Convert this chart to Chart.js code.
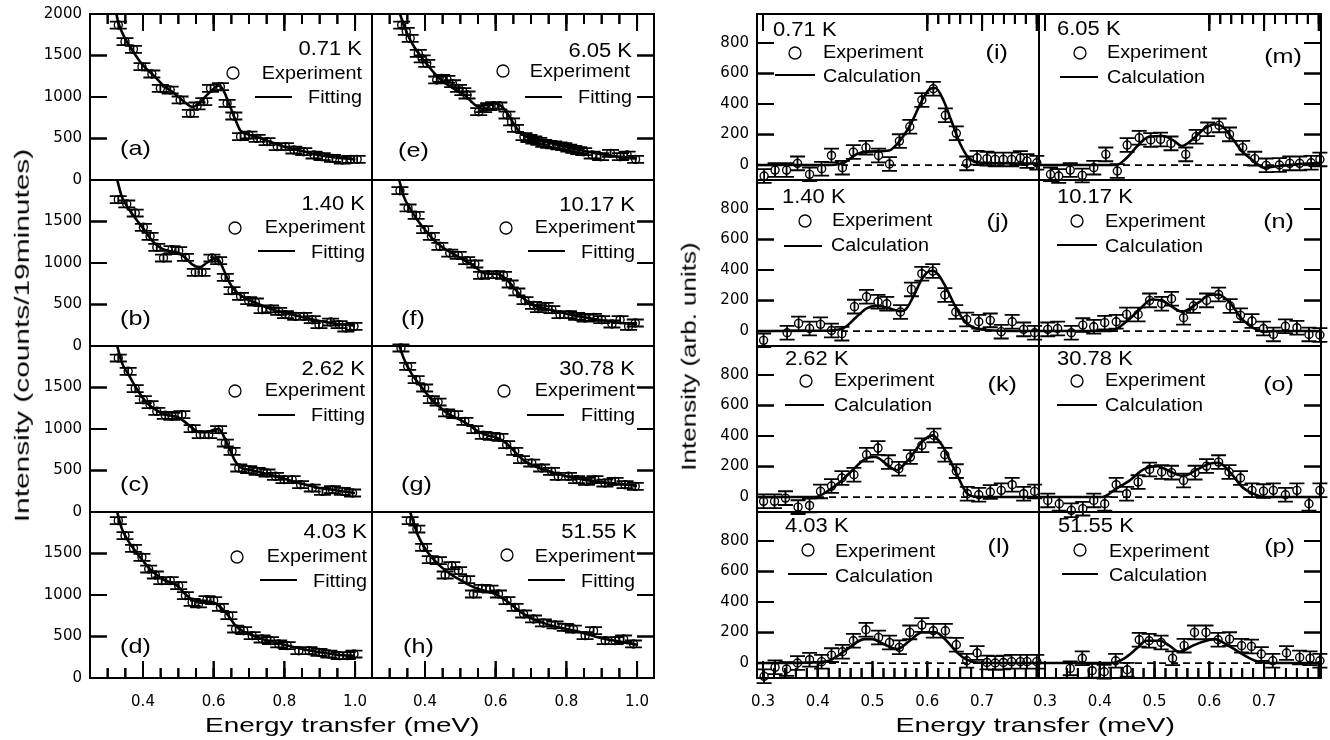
<!DOCTYPE html>
<html><head><meta charset="utf-8">
<script src="https://cdn.jsdelivr.net/npm/chart.js@4.4.0/dist/chart.umd.min.js"></script>
<style>
html,body{margin:0;padding:0;background:#fff;}
#wrap{position:relative;width:1330px;height:740px;overflow:hidden;background:#fff;}
#wrap canvas{position:absolute;}
.title{position:absolute;font-family:"Liberation Sans",Arial,sans-serif;color:#000;white-space:nowrap;line-height:1;transform-origin:50% 50%;}
</style></head>
<body><div id="wrap"></div>
<script>
// ---------- labels ----------
const leftTemps = ['0.71 K','1.40 K','2.62 K','4.03 K','6.05 K','10.17 K','30.78 K','51.55 K'];
const leftLetters = ['(a)','(b)','(c)','(d)','(e)','(f)','(g)','(h)'];
const rightTemps = ['0.71 K','1.40 K','2.62 K','4.03 K','6.05 K','10.17 K','30.78 K','51.55 K'];
const rightLetters = ['(i)','(j)','(k)','(l)','(m)','(n)','(o)','(p)'];
const leftErr = 42;   // counts
const rightErr = 45;  // arb. units

// ---------- left block: measured spectra (E meV, counts) ----------
const expA_E = [0.330,0.349,0.373,0.397,0.425,0.449,0.477,0.505,0.534,0.553,0.572,0.591,0.619,0.638,0.657,0.676,0.700,0.723,0.751,0.780,0.803,0.827,0.855,0.884,0.907,0.936,0.964,0.988,1.006];
const expA_I = [1867,1667,1574,1365,1277,1104,1084,964,803,892,944,1104,1124,924,771,522,542,502,462,402,402,361,341,301,281,261,241,249,249];
const fitA_E = [0.322,0.33,0.35,0.37,0.40,0.43,0.46,0.49,0.52,0.54,0.56,0.58,0.60,0.615,0.63,0.645,0.66,0.675,0.69,0.72,0.76,0.80,0.85,0.90,0.95,1.0];
const fitA_I = [2060,1900,1700,1560,1380,1260,1130,1040,930,880,930,1020,1100,1140,1060,900,740,600,560,520,460,400,350,300,270,250];

const expB_E = [0.330,0.354,0.378,0.401,0.420,0.439,0.458,0.482,0.501,0.520,0.548,0.567,0.595,0.614,0.633,0.652,0.676,0.699,0.718,0.737,0.761,0.784,0.803,0.832,0.855,0.879,0.898,0.931,0.955,0.974,0.997];
const expB_I = [1763,1711,1602,1430,1321,1189,1060,1161,1149,1068,888,888,1060,1028,827,667,598,546,530,438,446,418,378,357,357,317,257,289,257,217,237];
const fitB_E = [0.327,0.34,0.36,0.38,0.40,0.42,0.44,0.46,0.48,0.50,0.52,0.54,0.56,0.58,0.60,0.615,0.63,0.645,0.66,0.68,0.70,0.73,0.76,0.80,0.85,0.90,0.95,1.0];
const fitB_I = [2000,1800,1650,1530,1420,1300,1210,1160,1140,1120,1060,980,950,1000,1050,1030,900,760,670,600,555,500,450,400,350,300,265,245];

const expC_E = [0.330,0.358,0.378,0.401,0.420,0.439,0.463,0.482,0.510,0.539,0.562,0.586,0.614,0.633,0.652,0.671,0.699,0.723,0.751,0.775,0.799,0.822,0.846,0.879,0.908,0.936,0.964,0.993];
const expC_I = [1855,1695,1486,1353,1293,1213,1165,1153,1173,1004,932,932,992,831,731,530,510,490,470,430,390,390,329,289,249,269,249,229];
const fitC_E = [0.327,0.34,0.36,0.38,0.40,0.42,0.44,0.46,0.48,0.50,0.52,0.54,0.56,0.58,0.60,0.615,0.63,0.645,0.66,0.675,0.70,0.73,0.76,0.80,0.85,0.90,0.95,1.0];
const fitC_I = [2000,1800,1650,1500,1370,1280,1220,1180,1160,1140,1080,1010,960,960,990,1000,900,760,620,540,510,480,450,400,340,290,260,225];

const expD_E = [0.330,0.349,0.373,0.397,0.416,0.435,0.453,0.477,0.501,0.520,0.539,0.557,0.581,0.600,0.619,0.643,0.662,0.685,0.709,0.737,0.761,0.784,0.808,0.841,0.870,0.898,0.926,0.955,0.978,0.997];
const expD_I = [1896,1715,1562,1454,1313,1241,1173,1173,1112,992,912,892,944,932,851,751,590,570,510,470,450,410,390,329,329,309,289,269,269,289];
const fitD_E = [0.327,0.34,0.36,0.38,0.40,0.42,0.44,0.46,0.48,0.50,0.52,0.54,0.56,0.58,0.60,0.62,0.64,0.66,0.68,0.70,0.73,0.76,0.80,0.85,0.90,0.95,1.0];
const fitD_I = [2000,1800,1640,1520,1410,1310,1240,1180,1150,1100,1010,940,910,920,910,850,760,640,570,530,480,445,400,350,310,280,265];

const expE_E = [0.334,0.347,0.358,0.381,0.392,0.405,0.433,0.447,0.462,0.478,0.495,0.507,0.519,0.552,0.566,0.580,0.594,0.609,0.632,0.645,0.656,0.680,0.694,0.708,0.722,0.736,0.750,0.764,0.779,0.793,0.807,0.821,0.835,0.849,0.873,0.897,0.925,0.953,0.972,0.996];
const expE_I = [1867,1790,1707,1526,1460,1406,1205,1225,1213,1160,1104,1065,1024,823,860,884,895,892,783,700,622,522,500,482,465,442,430,422,410,402,385,369,355,341,301,281,321,281,301,249];
const fitE_E = [0.329,0.35,0.37,0.39,0.41,0.43,0.45,0.47,0.49,0.51,0.53,0.55,0.57,0.595,0.615,0.635,0.655,0.675,0.70,0.72,0.76,0.80,0.85,0.90,0.95,1.0];
const fitE_I = [2000,1760,1600,1480,1370,1270,1190,1130,1080,1030,950,885,905,925,895,790,650,550,500,480,440,400,350,310,280,260];

const expF_E = [0.329,0.352,0.375,0.399,0.418,0.442,0.470,0.494,0.518,0.541,0.560,0.579,0.603,0.622,0.641,0.660,0.683,0.707,0.721,0.740,0.759,0.782,0.806,0.829,0.853,0.877,0.900,0.929,0.952,0.976,0.995];
const expF_I = [1871,1663,1574,1402,1321,1201,1120,1092,1028,988,851,859,859,851,747,651,546,490,450,478,438,378,378,357,337,345,317,265,317,237,277];
const fitF_E = [0.327,0.34,0.36,0.38,0.40,0.42,0.44,0.46,0.48,0.50,0.52,0.54,0.56,0.58,0.60,0.62,0.64,0.66,0.68,0.70,0.73,0.76,0.80,0.85,0.90,0.95,1.0];
const fitF_I = [2000,1800,1640,1510,1400,1300,1220,1160,1110,1060,1010,960,890,870,870,840,760,660,570,510,460,430,390,345,310,280,260];

const expG_E = [0.332,0.351,0.375,0.399,0.418,0.437,0.461,0.484,0.513,0.541,0.565,0.588,0.612,0.631,0.654,0.673,0.702,0.730,0.758,0.777,0.806,0.829,0.857,0.881,0.909,0.938,0.966,0.995];
const expG_I = [1976,1755,1594,1494,1353,1325,1193,1173,1092,992,924,912,900,811,731,631,590,530,490,430,430,390,369,390,349,369,329,309];
const fitG_E = [0.325,0.34,0.36,0.38,0.40,0.42,0.44,0.46,0.48,0.50,0.52,0.54,0.56,0.58,0.60,0.62,0.64,0.66,0.68,0.70,0.73,0.76,0.80,0.85,0.90,0.95,1.0];
const fitG_I = [2030,1850,1680,1560,1450,1350,1270,1200,1150,1110,1060,1000,950,920,900,860,790,700,620,570,520,480,430,390,360,340,315];

const expH_E = [0.358,0.377,0.396,0.415,0.438,0.457,0.476,0.495,0.518,0.537,0.561,0.584,0.608,0.632,0.655,0.679,0.707,0.735,0.768,0.797,0.820,0.853,0.877,0.910,0.938,0.962,0.990];
const expH_I = [1896,1795,1574,1426,1414,1241,1353,1293,1185,1012,1080,1072,1012,932,851,771,711,663,639,610,590,510,570,450,450,470,410];
const fitH_E = [0.358,0.37,0.38,0.40,0.42,0.44,0.46,0.48,0.50,0.52,0.54,0.56,0.58,0.60,0.62,0.64,0.66,0.68,0.70,0.73,0.76,0.80,0.85,0.90,0.95,1.0];
const fitH_I = [2000,1840,1720,1560,1450,1360,1290,1230,1180,1130,1090,1060,1040,1010,960,900,830,770,720,670,630,590,540,480,440,400];

// ---------- right block: magnetic part (E meV, arb. units) ----------
const expI_E = [0.302,0.322,0.343,0.363,0.385,0.407,0.425,0.445,0.465,0.488,0.511,0.531,0.549,0.568,0.590,0.611,0.633,0.653,0.672,0.691,0.709,0.724,0.739,0.754,0.770,0.782,0.800];
const expI_I = [-72,-33,-33,11,-61,-24,63,-17,85,114,63,7,157,251,426,500,326,208,11,48,42,37,37,37,46,26,15];
const calI_E = [0.289,0.40,0.43,0.45,0.47,0.49,0.51,0.53,0.55,0.57,0.59,0.605,0.615,0.63,0.645,0.66,0.675,0.69,0.72,0.805];
const calI_I = [0,0,2,20,70,88,90,95,160,270,420,500,505,420,280,140,50,18,12,10];

const expJ_E = [0.301,0.344,0.365,0.385,0.405,0.425,0.444,0.467,0.489,0.510,0.526,0.551,0.571,0.590,0.610,0.632,0.652,0.672,0.694,0.715,0.735,0.755,0.776,0.796];
const expJ_I = [-61,-11,50,17,44,4,-17,160,225,192,179,125,273,376,393,236,125,76,61,70,-4,61,11,-11];
const calJ_E = [0.289,0.40,0.43,0.45,0.47,0.49,0.51,0.53,0.55,0.56,0.575,0.59,0.60,0.61,0.62,0.635,0.65,0.665,0.68,0.70,0.73,0.805];
const calJ_I = [0,2,5,25,90,150,165,150,130,140,230,340,385,395,370,280,170,80,30,10,2,0];

const expK_E = [0.301,0.321,0.341,0.364,0.385,0.405,0.425,0.444,0.466,0.489,0.510,0.529,0.548,0.569,0.590,0.612,0.632,0.653,0.673,0.694,0.715,0.735,0.755,0.776,0.796];
const expK_I = [-28,-28,-7,-66,-55,37,72,125,146,277,321,229,186,262,339,404,277,170,22,15,33,44,81,22,37];
const calK_E = [0.289,0.395,0.42,0.444,0.466,0.49,0.505,0.525,0.543,0.567,0.59,0.609,0.627,0.652,0.673,0.69,0.805];
const calK_I = [0,0,44,109,186,256,262,218,175,251,360,404,339,164,22,2,0];

const expL_E = [0.302,0.322,0.343,0.363,0.385,0.407,0.425,0.445,0.465,0.488,0.511,0.531,0.549,0.568,0.590,0.611,0.633,0.653,0.672,0.691,0.709,0.724,0.739,0.754,0.770,0.782,0.800];
const expL_I = [-87,-28,-39,0,22,9,52,74,146,218,168,135,103,201,249,212,212,120,15,66,4,0,4,9,9,9,9];
const calL_E = [0.289,0.38,0.42,0.45,0.485,0.50,0.52,0.545,0.568,0.59,0.615,0.635,0.654,0.672,0.69,0.805];
const calL_I = [0,3,15,81,157,157,125,92,146,201,201,146,70,22,4,0];

const expM_E = [0.310,0.325,0.346,0.368,0.389,0.411,0.432,0.450,0.472,0.493,0.511,0.530,0.557,0.576,0.597,0.618,0.637,0.661,0.683,0.704,0.728,0.747,0.765,0.786,0.802];
const expM_I = [-61,-72,-33,-68,-17,70,-39,131,179,164,168,142,70,186,234,260,201,114,42,-2,0,11,11,15,37];
const calM_E = [0.289,0.43,0.45,0.47,0.49,0.515,0.535,0.55,0.57,0.59,0.61,0.625,0.645,0.66,0.68,0.70,0.72,0.76,0.805];
const calM_I = [0,0,50,130,186,190,160,125,170,235,267,250,160,90,30,-17,-10,5,15];

const expN_E = [0.305,0.323,0.348,0.369,0.389,0.409,0.430,0.449,0.470,0.491,0.513,0.531,0.553,0.571,0.595,0.617,0.638,0.657,0.678,0.699,0.717,0.739,0.760,0.782,0.802];
const expN_I = [11,17,-11,39,28,55,61,109,109,201,179,212,87,164,201,240,164,103,66,17,-22,31,22,-22,-26];
const calN_E = [0.289,0.42,0.45,0.47,0.495,0.515,0.53,0.55,0.58,0.60,0.617,0.64,0.66,0.685,0.70,0.72,0.805];
const calN_I = [0,0,66,131,207,197,164,127,186,236,240,175,76,11,-4,0,0];

const expO_E = [0.305,0.326,0.348,0.369,0.389,0.409,0.430,0.449,0.470,0.491,0.513,0.531,0.553,0.574,0.595,0.617,0.636,0.657,0.678,0.699,0.717,0.739,0.760,0.782,0.802];
const expO_I = [-22,-44,-87,-76,-22,-44,81,22,98,181,164,160,109,160,203,229,164,125,44,39,44,15,44,-44,44];
const calO_E = [0.289,0.405,0.43,0.455,0.48,0.505,0.53,0.553,0.575,0.60,0.617,0.64,0.66,0.685,0.70,0.805];
const calO_I = [0,0,55,109,181,203,164,138,175,218,225,153,66,15,0,0];

const expP_E = [0.346,0.368,0.386,0.408,0.429,0.450,0.472,0.490,0.512,0.533,0.554,0.573,0.594,0.616,0.637,0.659,0.677,0.695,0.716,0.741,0.765,0.784,0.802];
const expP_I = [-35,31,-50,-57,15,-44,153,146,135,31,114,201,201,153,157,114,109,59,15,66,37,31,15];
const calP_E = [0.289,0.42,0.445,0.47,0.485,0.51,0.527,0.545,0.57,0.588,0.61,0.63,0.655,0.674,0.69,0.72,0.805];
const calP_I = [0,0,31,103,146,146,114,74,114,140,157,125,70,31,9,0,0];

// ---------- assembling ----------
const leftSeries = [
  [expA_E,expA_I,fitA_E,fitA_I],[expB_E,expB_I,fitB_E,fitB_I],[expC_E,expC_I,fitC_E,fitC_I],[expD_E,expD_I,fitD_E,fitD_I],
  [expE_E,expE_I,fitE_E,fitE_I],[expF_E,expF_I,fitF_E,fitF_I],[expG_E,expG_I,fitG_E,fitG_I],[expH_E,expH_I,fitH_E,fitH_I]
];
const rightSeries = [
  [expI_E,expI_I,calI_E,calI_I],[expJ_E,expJ_I,calJ_E,calJ_I],[expK_E,expK_I,calK_E,calK_I],[expL_E,expL_I,calL_E,calL_I],
  [expM_E,expM_I,calM_E,calM_I],[expN_E,expN_I,calN_E,calN_I],[expO_E,expO_I,calO_E,calO_I],[expP_E,expP_I,calP_E,calP_I]
];

// layout (pixels)
const ROW_Y = [14,180,346,512];
const PANEL_W = 282, PANEL_H = 166;
const PAD = 45;
const BLOCKS = {
  L: { colX:[90,372], xMin:0.25, xMax:1.048, xMajor:0.2, xMinor:0.05, yMin:0, yMax:2000, yStep:500,
       err:leftErr, cap:8.5, temps:leftTemps, letters:leftLetters, series:leftSeries, lineLabel:'Fitting', zero:false },
  R: { colX:[757,1039], xMin:0.289, xMax:0.804, xMajor:0.1, xMinor:0.02, yMin:-98, yMax:990, yStep:200,
       err:rightErr, cap:7.5, temps:rightTemps, letters:rightLetters, series:rightSeries, lineLabel:'Calculation', zero:true }
};
const LEFT_LAYOUT = [
 {t:[272,41], c:[143,59], e:[272,65], l:[165,202,83], f:[272,89], p:[30,141]},
 {t:[275,30], c:[145,48], e:[275,53], l:[168,205,71], f:[275,78], p:[30,145]},
 {t:[275,29], c:[145,45], e:[275,50], l:[168,205,69], f:[275,75], p:[30,145]},
 {t:[277,26], c:[147,45], e:[277,50], l:[170,207,68], f:[277,75], p:[30,141]},
 {t:[260,43], c:[131,57], e:[258,63], l:[153,190,83], f:[260,89], p:[26,143]},
 {t:[263,31], c:[134,48], e:[263,53], l:[156,193,71], f:[263,78], p:[29,145]},
 {t:[263,29], c:[132,45], e:[263,50], l:[155,192,69], f:[263,75], p:[29,145]},
 {t:[265,26], c:[135,43], e:[263,50], l:[156,193,68], f:[263,75], p:[31,141]}
];
const RIGHT_LAYOUT = [
 {t:[16,22], c:[38,39], e:[66,44], l:[18,58,61], f:[66,68], p:[251,45]},
 {t:[25,23], c:[48,41], e:[75,46], l:[27,65,66], f:[74,71], p:[252,48]},
 {t:[28,19], c:[49,35], e:[77,40], l:[28,67,59], f:[77,65], p:[260,45]},
 {t:[28,20], c:[51,38], e:[78,45], l:[31,70,62], f:[78,70], p:[253,41]},
 {t:[18,21], c:[41,39], e:[68,44], l:[21,59,63], f:[68,69], p:[263,49]},
 {t:[18,23], c:[38,41], e:[66,47], l:[18,58,65], f:[66,72], p:[255,48]},
 {t:[18,19], c:[38,35], e:[66,40], l:[18,58,59], f:[66,65], p:[255,45]},
 {t:[19,20], c:[41,38], e:[70,45], l:[23,59,62], f:[70,69], p:[256,41]}
];
const TICK_FONT = {family:'"DejaVu Sans", sans-serif', size:15};
const TXT_FAMILY = '"Liberation Sans", Arial, sans-serif';

const wrap = document.getElementById('wrap');
const built = [];

function stretchText(ctx, txt, x, y, size, align, sx) {
  ctx.save();
  ctx.font = size + 'px ' + TXT_FAMILY;
  ctx.textBaseline = 'alphabetic';
  ctx.textAlign = 'left';
  ctx.fillStyle = '#000';
  const w = ctx.measureText(txt).width * sx;
  const x0 = align === 'right' ? x - w : (align === 'center' ? x - w / 2 : x);
  ctx.translate(x0, y);
  ctx.scale(sx, 1);
  ctx.fillText(txt, 0, 0);
  ctx.restore();
}

// inward tick marks, positioned by the chart's own scales
function drawTickMarks(chart, ctx, offX, offY, row, col, skip) {
  const a = chart.chartArea, S = chart.scales;
  const sets = [];
  if (row === 3) { sets.push([S.x, 'bottom', 17]); sets.push([S.xm, 'bottom', 10]); }
  if (row === 0) { sets.push([S.xt, 'top', 17]); sets.push([S.xtm, 'top', 10]); }
  sets.push([S.y, col === 0 ? 'left' : 'right', 17]);
  ctx.save();
  ctx.setLineDash([]);
  ctx.strokeStyle = '#000000';
  ctx.lineWidth = 2;
  for (let k = 0; k < sets.length; k++) {
    const sc = sets[k][0], side = sets[k][1], len = sets[k][2];
    if (!sc || !sc.ticks) continue;
    for (let j = 0; j < sc.ticks.length; j++) {
      const p = sc.getPixelForValue(sc.ticks[j].value);
      if (!isFinite(p)) continue;
      if (side === 'top' && skip && p > a.left + skip[0] && p < a.left + skip[1]) continue;
      ctx.beginPath();
      if (side === 'bottom') { ctx.moveTo(offX + p, offY + a.bottom); ctx.lineTo(offX + p, offY + a.bottom - len); }
      else if (side === 'top') { ctx.moveTo(offX + p, offY + a.top); ctx.lineTo(offX + p, offY + a.top + len); }
      else if (side === 'left') { ctx.moveTo(offX + a.left, offY + p); ctx.lineTo(offX + a.left + len, offY + p); }
      else { ctx.moveTo(offX + a.right, offY + p); ctx.lineTo(offX + a.right - len, offY + p); }
      ctx.stroke();
    }
  }
  ctx.restore();
}

function buildPanel(bk, idx) {
  const B = BLOCKS[bk];
  const col = Math.floor(idx / 4), row = idx % 4;
  const L = B.colX[col], T = ROW_Y[row];
  const axisW = 75, axisH = 50;
  const padL = col === 0 ? axisW : PAD, padR = PAD, padT = PAD, padB = row === 3 ? axisH : PAD;
  const cv = document.createElement('canvas');
  cv.width = padL + PANEL_W + padR;
  cv.height = padT + PANEL_H + padB;
  const offX = L - padL, offY = T - padT;
  cv.style.left = offX + 'px';
  cv.style.top = offY + 'px';
  wrap.appendChild(cv);

  const [eE, eI, fE, fI] = B.series[idx];
  const expPts = eE.map((x, i) => ({x, y: eI[i]}));
  const fitPts = fE.map((x, i) => ({x, y: fI[i]}));
  const lay = (bk === 'L' ? LEFT_LAYOUT : RIGHT_LAYOUT)[idx];
  const skip = (bk === 'R' && row === 0) ? [14, 168] : null;

  const xLabelCb = v => {
    if (bk === 'R' && Math.abs(v - 0.8) < 1e-6) return '';
    return Number(v).toFixed(1);
  };
  const yLabelCb = v => {
    if (bk === 'L' && row > 0 && v === 2000) return '';
    return String(v);
  };
  const noGrid = {display:false, drawTicks:false, drawOnChartArea:false};
  const xAxis = (pos, step, showLabels, vis, weight, h) => ({
    type:'linear', axis:'x', position:pos, min:B.xMin, max:B.xMax, display:vis, weight,
    grid: noGrid, border:{display:false},
    ticks:{stepSize:step, includeBounds:false, autoSkip:false, maxRotation:0, minRotation:0,
           display:showLabels, padding:15, color:'#000', font:TICK_FONT, callback:xLabelCb},
    afterFit: s => { s.height = h; }
  });
  const scales = {
    x: xAxis('bottom', B.xMajor, row === 3, row === 3, 1, row === 3 ? axisH : 0),
    xm: xAxis('bottom', B.xMinor, false, row === 3, 0, 0),
    y: { type:'linear', axis:'y', position: col === 0 ? 'left' : 'right', min:B.yMin, max:B.yMax,
         grid: noGrid, border:{display:false},
         ticks:{stepSize:B.yStep, includeBounds:false, display: col === 0, padding:8, color:'#000',
                font:TICK_FONT, callback:yLabelCb},
         afterFit: s => { s.width = col === 0 ? axisW : 0; } }
  };
  if (row === 0) {
    scales.xt = xAxis('top', B.xMajor, false, true, 1, 0);
    scales.xtm = xAxis('top', B.xMinor, false, true, 0, 0);
  }

  const deco = {
    id: 'deco' + bk + idx,
    beforeDatasetsDraw(chart) {
      const ctx = chart.ctx, xs = chart.scales.x, ys = chart.scales.y, a = chart.chartArea;
      ctx.save();
      if (B.zero) {
        ctx.strokeStyle = '#000'; ctx.lineWidth = 1.7; ctx.setLineDash([7, 5]);
        const y0 = ys.getPixelForValue(0);
        ctx.beginPath(); ctx.moveTo(a.left, y0); ctx.lineTo(a.right, y0); ctx.stroke();
        ctx.setLineDash([]);
      }
      ctx.strokeStyle = '#000'; ctx.lineWidth = 1.8;
      ctx.beginPath();
      for (let i = 0; i < eE.length; i++) {
        const px = xs.getPixelForValue(eE[i]);
        const yt = ys.getPixelForValue(eI[i] + B.err), yb = ys.getPixelForValue(eI[i] - B.err);
        ctx.moveTo(px, yt); ctx.lineTo(px, yb);
        ctx.moveTo(px - B.cap, yt); ctx.lineTo(px + B.cap, yt);
        ctx.moveTo(px - B.cap, yb); ctx.lineTo(px + B.cap, yb);
      }
      ctx.stroke();
      ctx.restore();
    },
    afterDraw(chart) {
      const ctx = chart.ctx, a = chart.chartArea;
      const X = a.left, Y = a.top;
      drawTickMarks(chart, ctx, 0, 0, row, col, skip);
      ctx.save();
      ctx.strokeStyle = '#000'; ctx.lineWidth = 2;
      ctx.strokeRect(a.left, a.top, a.right - a.left, a.bottom - a.top);
      const al = bk === 'L' ? 'right' : 'left';
      stretchText(ctx, B.temps[idx], X + lay.t[0], Y + lay.t[1], 20, al, 1.1);
      ctx.strokeStyle = '#000'; ctx.lineWidth = 1.3;
      ctx.beginPath(); ctx.arc(X + lay.c[0], Y + lay.c[1], 6, 0, Math.PI * 2); ctx.stroke();
      stretchText(ctx, 'Experiment', X + lay.e[0], Y + lay.e[1], 18, al, 1.1);
      ctx.lineWidth = 1.8;
      ctx.beginPath(); ctx.moveTo(X + lay.l[0], Y + lay.l[2]); ctx.lineTo(X + lay.l[1], Y + lay.l[2]); ctx.stroke();
      stretchText(ctx, B.lineLabel, X + lay.f[0], Y + lay.f[1], 18, al, 1.1);
      stretchText(ctx, B.letters[idx], X + lay.p[0], Y + lay.p[1], 21, bk === 'L' ? 'left' : 'right', 1.2);
      ctx.restore();
    }
  };

  const chart = new Chart(cv.getContext('2d'), {
    type: 'scatter',
    data: { datasets: [
      { type:'line', data: fitPts, borderColor:'#000', borderWidth:2.6, pointRadius:0, fill:false,
        cubicInterpolationMode:'monotone', order:2 },
      { type:'scatter', data: expPts, borderColor:'#000', backgroundColor:'rgba(0,0,0,0)', pointRadius:4,
        pointHoverRadius:4, borderWidth:1.4, pointStyle:'circle', clip:false, order:1 }
    ]},
    options: {
      responsive:false, animation:false, devicePixelRatio:1, events:[],
      layout:{ padding:{ left: col === 0 ? 0 : padL, right: padR, top: padT, bottom: row === 3 ? 0 : padB } },
      plugins:{ legend:{display:false}, tooltip:{enabled:false} },
      scales
    },
    plugins: [deco]
  });
  built.push({chart, offX, offY, row, col, skip});
}

for (let i = 0; i < 8; i++) { buildPanel('L', i); }
for (let i = 0; i < 8; i++) { buildPanel('R', i); }

// tick marks repeated on a top layer, from the same scales, so they are never hidden by a neighbour
const ov = document.createElement('canvas');
ov.width = 1330; ov.height = 740;
ov.style.left = '0px'; ov.style.top = '0px';
wrap.appendChild(ov);
const octx = ov.getContext('2d');
for (const b of built) { drawTickMarks(b.chart, octx, b.offX, b.offY, b.row, b.col, b.skip); }

function addTitle(text, cx, cy, size, targetLen, rotate) {
  const d = document.createElement('div');
  d.className = 'title';
  d.style.fontSize = size + 'px';
  d.textContent = text;
  wrap.appendChild(d);
  const w = d.offsetWidth, h = d.offsetHeight;
  d.style.left = (cx - w / 2) + 'px';
  d.style.top = (cy - h / 2) + 'px';
  d.style.transform = (rotate ? 'rotate(-90deg) ' : '') + 'scaleX(' + (targetLen / w) + ')';
}
addTitle('Intensity (counts/19minutes)', 21, 335, 21, 374, true);
addTitle('Energy transfer (meV)', 342, 724, 21, 275, false);
addTitle('Intensity (arb. units)', 688, 356, 21, 228, true);
addTitle('Energy transfer (meV)', 1035, 724, 21, 280, false);
</script>
</body></html>
